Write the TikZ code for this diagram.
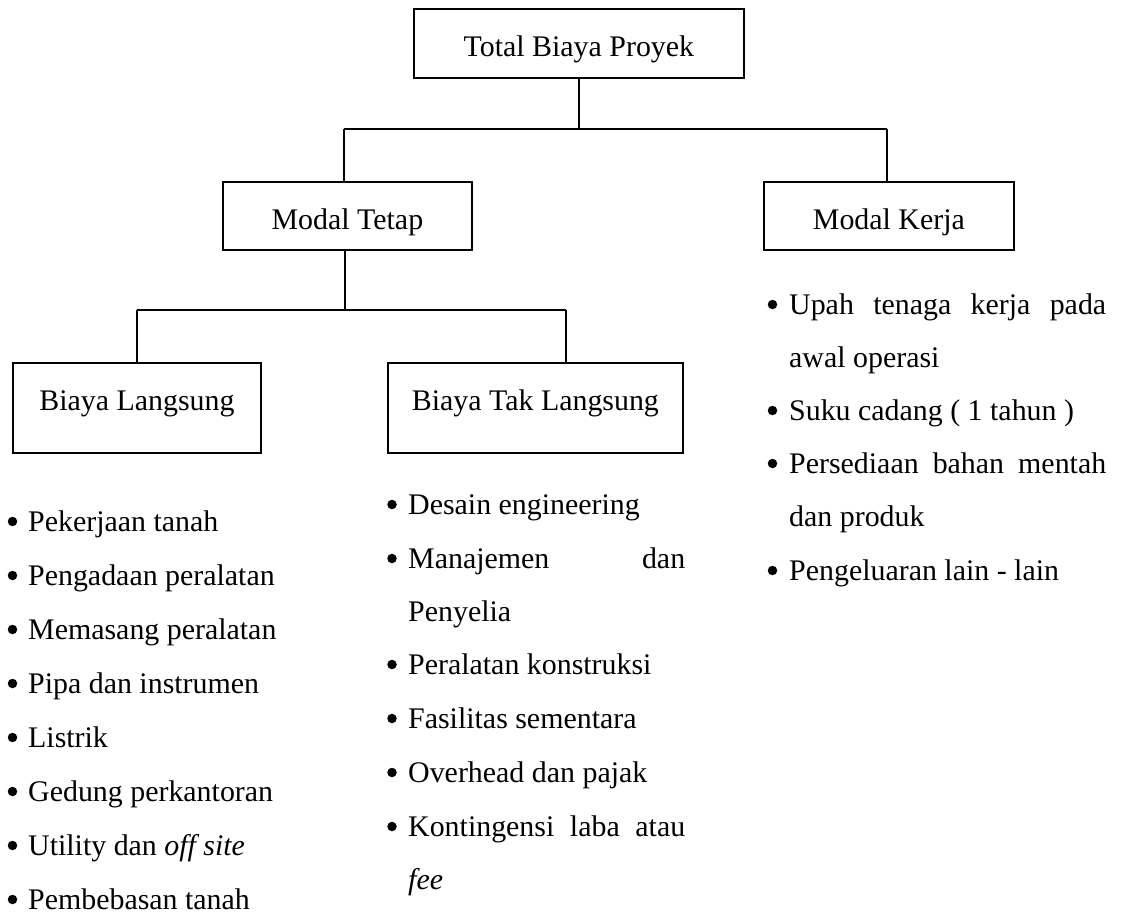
\documentclass[tikz,border=0pt]{standalone}
\usepackage{fontspec}
\setmainfont{Liberation Serif}
\begin{document}
\begin{tikzpicture}[x=1bp,y=-1bp,
  every node/.style={font=\fontsize{29.9bp}{36bp}\selectfont, inner sep=0pt},
  box/.style={draw, line width=1.8bp, anchor=north west, align=center, text height=48bp},
  conn/.style={line width=1.8bp},
  itm/.style={anchor=base west},
  bul/.style={circle, fill=black, minimum size=9.5bp}]
\useasboundingbox (0,0) rectangle (1122,913);
% boxes
\node[box, minimum width=330bp, text depth=21bp] (tot) at (413,8) {Total Biaya Proyek};
\node[box, minimum width=249bp, text depth=20bp] (mt) at (222,181) {Modal Tetap};
\node[box, minimum width=250bp, text depth=20bp] (mk) at (763,181) {Modal Kerja};
\node[box, minimum width=248bp, text depth=42bp] (bl) at (12,362) {Biaya Langsung};
\node[box, minimum width=295bp, text depth=42bp] (btl) at (387,362) {Biaya Tak Langsung};
% connectors
\coordinate (c1l) at (344,129);
\coordinate (c1r) at (887,129);
\coordinate (c2l) at (137,310);
\coordinate (c2r) at (566,310);
\coordinate (c2m) at (345,310);
\draw[conn] (tot.south) -- (tot.south |- c1l);
\draw[conn] (c1l) -- (c1r);
\draw[conn] (c1l) -- (c1l |- mt.north);
\draw[conn] (c1r) -- (c1r |- mk.north);
\draw[conn] (c2m |- mt.south) -- (c2m);
\draw[conn] (c2l) -- (c2r);
\draw[conn] (c2l) -- (c2l |- bl.north);
\draw[conn] (c2r) -- (c2r |- btl.north);
% left list
\foreach \t [count=\i from 0] in {Pekerjaan tanah, Pengadaan peralatan, Memasang peralatan, Pipa dan instrumen, Listrik, Gedung perkantoran, Utility dan \textit{off site}, Pembebasan tanah}{
  \node[bul] (lb\i) at (12.5,{521.5+54*\i}) {};
  \node[itm] (l\i) at (28,{531+54*\i}) {\t};
}
% middle list
\node[bul] (mb0) at (392,504.5) {};
\node[itm] (m0) at (408,514) {Desain engineering};
\node[bul] (mb1) at (392,558.5) {};
\node[itm] (m1) at (408,568) {\makebox[277bp][s]{Manajemen dan}};
\node[itm] (m1b) at (408,621) {Penyelia};
\node[bul] (mb2) at (392,664.5) {};
\node[itm] (m2) at (408,674) {Peralatan konstruksi};
\node[bul] (mb3) at (392,718.5) {};
\node[itm] (m3) at (408,728) {Fasilitas sementara};
\node[bul] (mb4) at (392,772.5) {};
\node[itm] (m4) at (408,782) {Overhead dan pajak};
\node[bul] (mb5) at (392,826.5) {};
\node[itm] (m5) at (408,836) {\makebox[277bp][s]{Kontingensi laba atau}};
\node[itm] (m5b) at (408,889) {\textit{fee}};
% right list
\node[bul] (rb0) at (772.5,304.5) {};
\node[itm] (r0) at (789,314) {\makebox[317bp][s]{Upah tenaga kerja pada}};
\node[itm] (r0b) at (789,367) {awal operasi};
\node[bul] (rb1) at (772.5,410.5) {};
\node[itm] (r1) at (789,420) {Suku cadang ( 1 tahun )};
\node[bul] (rb2) at (772.5,463.5) {};
\node[itm] (r2) at (789,473) {\makebox[317bp][s]{Persediaan bahan mentah}};
\node[itm] (r2b) at (789,526) {dan produk};
\node[bul] (rb3) at (772.5,570.5) {};
\node[itm] (r3) at (789,580) {Pengeluaran lain - lain};
\end{tikzpicture}
\end{document}
